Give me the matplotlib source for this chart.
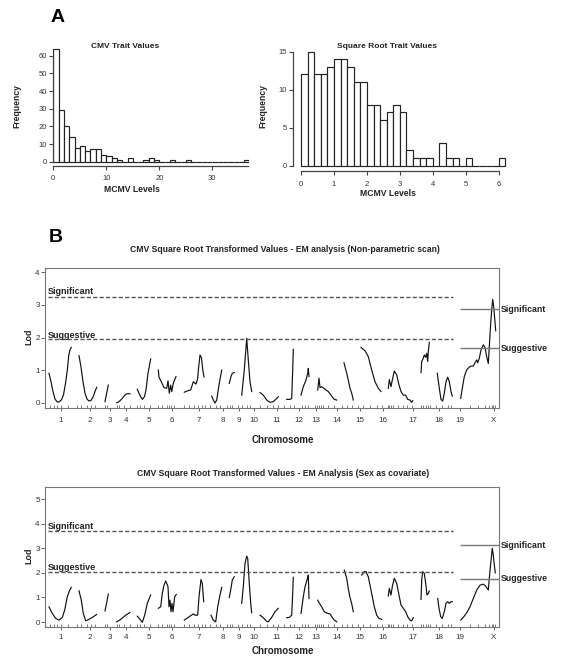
import numpy as np
import matplotlib
matplotlib.use("Agg")
import matplotlib.pyplot as plt

plt.rcParams['font.family'] = ['Liberation Sans', 'DejaVu Sans']

W, H = 563, 669

# ---- panel A: histogram counts ----
cmv_counts = [64, 29, 20, 14, 8, 9, 6, 7, 7, 4, 3, 2, 1, 0, 2, 0, 0, 1, 2, 1,
              0, 0, 1, 0, 0, 1, 0, 0, 0, 0, 0, 0, 0, 0, 0, 0, 1]
cmv_binwidth = 1.0
sqrt_counts = [12, 15, 12, 12, 13, 14, 14, 13, 11, 11, 8, 8, 6, 7, 8, 7, 2, 1,
               1, 1, 0, 3, 1, 1, 0, 1, 0, 0, 0, 0, 1]
sqrt_binwidth = 0.2

# ---- panel B: genome scans ----
chrom_names = [str(i) for i in range(1, 20)] + ['X']
chrom_mid = [61, 90, 109.7, 126, 148.7, 171.7, 199, 222.7, 239, 254.3, 276.7,
             299.3, 316, 337.3, 360, 382.7, 413.3, 439.3, 460, 493.7]
markers = [50, 54, 57.3, 61.3, 68, 77.3, 81.3, 86.7, 90.7, 94.7, 105, 107.3,
           116.7, 119, 124, 130, 137.3, 140, 144, 150, 158.3, 162.3, 167.3,
           169.3, 170.7, 171.7, 174, 184, 189, 194, 198.3, 201.7, 205, 210,
           215.7, 220, 226.7, 230, 232.3, 238.3, 241.7, 246.7, 250, 254.3, 260,
           266.7, 273.3, 277.7, 284.3, 290, 294.3, 301.7, 305, 308.3, 315,
           317.3, 319, 321, 323.3, 328.3, 334.3, 341.7, 346.7, 351.7, 358.3,
           363.3, 370, 376.7, 381.7, 387.7, 389.3, 391, 393.3, 398.3, 403.3,
           406.7, 411.7, 421, 423.3, 426, 428.3, 430, 435.7, 441.7, 448.3, 451,
           460, 470, 478.3, 485, 489, 491.7, 493.3, 495]

# non-parametric scan, one (positions, lod) pair per line piece
np_scan = [
    ([49, 51, 53, 55, 57.3, 59.5, 61.5, 63.5, 65.5, 67.3, 68.7, 70, 71.3],
     [0.91, 0.65, 0.35, 0.12, 0.03, 0.04, 0.1, 0.25, 0.6, 1.0, 1.45, 1.63, 1.7]),
    ([79, 81, 83, 85, 87, 89, 91, 93, 95, 96.7],
     [1.45, 1.1, 0.65, 0.3, 0.12, 0.06, 0.08, 0.18, 0.35, 0.48]),
    ([105, 108.3], [0.04, 0.55]),
    ([116.7, 118.5, 120.7, 122.5, 124, 126, 128, 130],
     [0.01, 0.03, 0.09, 0.15, 0.21, 0.27, 0.29, 0.28]),
    ([137.3, 139, 140.7, 142.5, 144.5, 146, 148, 150.7],
     [0.42, 0.3, 0.19, 0.11, 0.2, 0.4, 0.91, 1.35]),
    ([158.3, 159, 161.3, 164, 166.7, 168, 169.3, 170.7, 171.7, 173.3, 176],
     [1.01, 0.79, 0.65, 0.47, 0.45, 0.68, 0.30, 0.55, 0.35, 0.6, 0.81]),
    ([184.3, 188.3, 190.7, 193.3, 196, 197.5, 198.5, 200, 201.5, 203, 204],
     [0.33, 0.38, 0.40, 0.65, 0.58, 0.72, 1.05, 1.47, 1.38, 0.96, 0.8]),
    ([211.7, 213.5, 215, 216.7, 219, 221.7], [0.21, 0.08, 0.0, 0.09, 0.55, 1.01]),
    ([229.3, 231, 232.3, 234.3], [0.6, 0.81, 0.91, 0.93]),
    ([241.7, 244.3, 246.7, 248.3, 250, 251.7], [0.24, 1.01, 1.98, 1.32, 0.65, 0.35]),
    ([260, 263.3, 266.7, 270, 273.3, 276.7, 278.3],
     [0.32, 0.24, 0.09, 0.02, 0.04, 0.14, 0.19]),
    ([286.7, 290, 291.7, 292.7, 293.3], [0.11, 0.11, 0.14, 1.01, 1.64]),
    ([301, 303.3, 306, 307.7, 308.3, 309], [0.24, 0.5, 0.7, 0.91, 1.06, 0.81]),
    ([317.7, 319, 320, 321.7, 325, 328.3, 331.7, 334.3, 336.7],
     [0.4, 0.76, 0.47, 0.5, 0.42, 0.35, 0.21, 0.11, 0.09]),
    ([344, 346.7, 348.3, 350, 351.7, 353.3], [1.23, 0.91, 0.7, 0.45, 0.3, 0.09]),
    ([361, 365, 368.3, 371.7, 375, 378.3, 381], [1.70, 1.6, 1.42, 1.01, 0.65, 0.45, 0.35]),
    ([388.3, 389.3, 391, 392.3, 394.3, 396.7, 399, 401, 403.3, 405.7, 407.7, 410, 411.7, 412.7],
     [0.45, 0.72, 0.5, 0.7, 0.98, 0.86, 0.55, 0.35, 0.24, 0.24, 0.11, 0.09, 0.02, 0.07]),
    ([421, 421.7, 423.3, 424.3, 425.7, 426.7, 427.7, 428.3, 429.3],
     [0.93, 1.27, 1.37, 1.47, 1.40, 1.52, 1.27, 1.57, 1.85]),
    ([437.3, 439.3, 441, 442.7, 444.3, 446, 447.7, 449.3, 451, 452.3],
     [0.91, 0.45, 0.11, 0.06, 0.30, 0.65, 0.79, 0.65, 0.35, 0.21]),
    ([460.7, 462.3, 464.3, 466.7, 469, 471, 473.3, 475, 476.7, 477.7, 479.3, 481,
      483.3, 485, 486.7, 488.3, 489.3, 490.7, 491.7, 492.7, 493.7, 494.7, 495.7],
     [0.14, 0.45, 0.81, 1.01, 1.09, 1.13, 1.13, 1.23, 1.32, 1.23, 1.37, 1.62,
      1.78, 1.70, 1.42, 1.21, 1.72, 2.44, 2.85, 3.17, 2.95, 2.59, 2.21]),
]

# sex as covariate scan
sex_scan = [
    ([49, 52.3, 55.7, 59, 62.3, 64.7, 67.3, 69.7, 71.3],
     [0.62, 0.35, 0.15, 0.08, 0.19, 0.49, 1.03, 1.30, 1.41]),
    ([79, 81.3, 83.3, 85.7, 89, 92.3, 96.7], [1.27, 0.89, 0.35, 0.05, 0.11, 0.19, 0.31]),
    ([105, 106.7, 108.3], [0.45, 0.79, 1.14]),
    ([116.7, 120.7, 125.7, 130], [0.01, 0.11, 0.28, 0.39]),
    ([137.3, 140, 142.3, 144.7, 147.3, 150.7], [0.24, 0.11, -0.01, 0.28, 0.76, 1.1]),
    ([158.3, 160.7, 162.3, 164, 165.7, 168, 169, 170, 171, 172, 173, 174.7, 176.3],
     [0.56, 0.62, 1.17, 1.50, 1.67, 1.44, 0.62, 0.89, 0.42, 0.76, 0.42, 1.03, 1.12]),
    ([184.3, 190, 193.3, 195, 197.7, 199, 201, 202.3, 203.7],
     [0.08, 0.24, 0.33, 0.28, 0.28, 1.03, 1.73, 1.57, 0.83]),
    ([211, 213.3, 215.7, 217.7, 220, 221.7], [0.28, 0.08, 0.01, 0.62, 1.10, 1.41]),
    ([229.3, 231, 232.3, 234.3], [1.0, 1.37, 1.71, 1.84]),
    ([241.7, 243.3, 245, 246.7, 247.7, 249.3, 250.7, 251.7],
     [0.76, 1.44, 2.38, 2.68, 2.59, 1.57, 0.76, 0.38]),
    ([260, 263.3, 266, 268.3, 271.7, 275, 278.3], [0.28, 0.18, 0.05, 0.01, 0.19, 0.42, 0.56]),
    ([286.7, 289.3, 291.7, 292.7, 293.3], [0.18, 0.19, 0.28, 1.17, 1.82]),
    ([301, 303.3, 305, 306, 307.7, 308.3, 309], [0.35, 1.03, 1.43, 1.57, 1.82, 1.91, 0.96]),
    ([317.7, 319, 320, 321.7, 324.3, 327.7, 330, 331.7, 334.3, 336.7],
     [0.89, 0.79, 0.73, 0.62, 0.42, 0.35, 0.33, 0.22, 0.08, 0.01]),
    ([344.3, 346.7, 348.3, 350, 351.7, 353.3], [2.11, 1.78, 1.35, 1.0, 0.75, 0.42]),
    ([361.7, 364.3, 366, 368.3, 371, 374.3, 376.7, 379, 381.7],
     [1.91, 2.05, 2.05, 1.84, 1.30, 0.62, 0.28, 0.15, 0.11]),
    ([388.3, 389.3, 391, 392.3, 394.3, 396.7, 399, 401, 403.3, 405.7, 407.7, 410, 411.7, 413.3],
     [1.06, 1.37, 1.10, 1.44, 1.78, 1.57, 1.10, 0.69, 0.56, 0.42, 0.22, 0.08, 0.05, 0.18]),
    ([421, 421.7, 422.7, 424.3, 425.7, 427, 428.3, 429.3],
     [0.92, 1.71, 2.05, 1.98, 1.57, 1.10, 1.17, 1.26]),
    ([437.7, 439, 440.7, 442.3, 444.3, 446, 447.7, 449.3, 451, 452.3],
     [0.96, 0.56, 0.22, 0.15, 0.42, 0.76, 0.83, 0.76, 0.83, 0.83]),
    ([460.7, 463.3, 466.7, 470, 473.3, 476.7, 480, 483.3, 485.7, 488.3, 489.3,
      490.7, 492.3, 493.3, 494.3, 495.3],
     [0.08, 0.19, 0.38, 0.62, 0.96, 1.30, 1.50, 1.54, 1.46, 1.30, 1.78, 2.38,
      3.0, 2.72, 2.32, 2.0]),
]

np_thresh = {'auto_sig': 3.25, 'auto_sug': 1.95, 'x_sig': 2.87, 'x_sug': 1.67}
sex_thresh = {'auto_sig': 3.71, 'auto_sug': 2.02, 'x_sig': 3.13, 'x_sug': 1.76}

fig = plt.figure(figsize=(W / 100, H / 100), dpi=100)
fig.patch.set_facecolor('white')


def px_axes(l, t, r, b):
    return fig.add_axes([l / W, 1 - b / H, (r - l) / W, (b - t) / H])


def px_text(x, y, s, **kw):
    fig.text(x / W, 1 - y / H, s, **kw)


AX = '#444444'
TXT = '#222222'


def hist_panel(box, counts, width, xlim, ylim, xb, yb, xt, yt, xpad):
    ax = px_axes(*box)
    edges = np.arange(len(counts)) * width
    ax.bar(edges, counts, width=width, align='edge', color='white',
           edgecolor='#222222', linewidth=0.85)
    ax.set_xlim(*xlim)
    ax.set_ylim(*ylim)
    for s in ['top', 'right']:
        ax.spines[s].set_visible(False)
    ax.spines['left'].set_bounds(*yb)
    ax.spines['bottom'].set_bounds(*xb)
    for s in ['left', 'bottom']:
        ax.spines[s].set_color(AX)
        ax.spines[s].set_linewidth(0.9)
    ax.set_xticks(xt)
    ax.set_yticks(yt)
    ax.tick_params(length=3, width=0.8, color=AX, labelsize=5.5, pad=1.5,
                   labelcolor='#333333')
    ax.tick_params(axis='x', pad=xpad)
    return ax


hist_panel((53.3, 46.8, 249.4, 166), cmv_counts, cmv_binwidth, (0, 37),
           (-2.4, 65), (0, 36.8), (0, 60), [0, 10, 20, 30],
           [0, 10, 20, 30, 40, 50, 60], 3.5)
hist_panel((293.3, 44.1, 507, 171), sqrt_counts, sqrt_binwidth, (-0.234, 6.25),
           (-0.7, 16), (0, 6), (0, 15), [0, 1, 2, 3, 4, 5, 6],
           [0, 5, 10, 15], 4)

px_text(125, 47, 'CMV Trait Values', ha='center', va='center', fontsize=6,
        fontweight='bold', color=TXT)
px_text(386.7, 47, 'Square Root Trait Values', ha='center', va='center',
        fontsize=6, fontweight='bold', color=TXT)
px_text(17, 106, 'Frequency', rotation=90, ha='center', va='center',
        fontsize=6.2, fontweight='bold', color=TXT)
px_text(263, 106, 'Frequency', rotation=90, ha='center', va='center',
        fontsize=6.2, fontweight='bold', color=TXT)
px_text(132, 190, 'MCMV Levels', ha='center', va='center', fontsize=6.2,
        fontweight='bold', color=TXT)
px_text(388, 194, 'MCMV Levels', ha='center', va='center', fontsize=6.2,
        fontweight='bold', color=TXT)
px_text(58, 17, 'A', ha='center', va='center', fontsize=14, fontweight='bold')
px_text(56, 238, 'B', ha='center', va='center', fontsize=14, fontweight='bold')


def scan_panel(box, scan, thr, ylim, yt, lab_pad, sig_off, sug_off):
    ax = px_axes(*box)
    for xs, ys in scan:
        ax.plot(xs, ys, color='#111111', linewidth=0.85)
    ax.hlines([thr['auto_sig'], thr['auto_sug']], 48, 453, colors='#555555',
              linestyles=(0, (3, 1.6)), linewidth=1.0)
    ax.hlines([thr['x_sig'], thr['x_sug']], 460, 499, colors='#777777',
              linewidth=1.0, clip_on=False)
    ax.text(47.7, thr['auto_sig'] + sig_off, 'Significant', fontsize=6.5,
            fontweight='bold', color=TXT, va='baseline')
    ax.text(47.7, thr['auto_sug'] + sug_off, 'Suggestive', fontsize=6.5,
            fontweight='bold', color=TXT, va='baseline')
    ax.text(501, thr['x_sig'], 'Significant', fontsize=6.3, fontweight='bold',
            color=TXT, va='center', clip_on=False)
    ax.text(501, thr['x_sug'], 'Suggestive', fontsize=6.3, fontweight='bold',
            color=TXT, va='center', clip_on=False)
    ax.set_xlim(45.3, 499)
    ax.set_ylim(*ylim)
    for s in ax.spines.values():
        s.set_color('#777777')
        s.set_linewidth(0.8)
    ax.set_yticks(yt)
    ax.set_xticks(chrom_mid)
    ax.set_xticklabels(chrom_names)
    ax.set_xticks(markers, minor=True)
    ax.tick_params(axis='y', length=3, width=0.7, color='#666666',
                   labelsize=5.8, pad=1, labelcolor='#333333')
    ax.tick_params(axis='x', which='major', length=2, width=0.7,
                   color='#666666', labelsize=5.8, pad=lab_pad,
                   labelcolor='#333333')
    ax.tick_params(axis='x', which='minor', direction='in', length=2.5,
                   width=0.6, color='#666666')
    return ax


scan_panel((45.3, 267.7, 499, 407.7), np_scan, np_thresh, (-0.144, 4.14),
           [0, 1, 2, 3, 4], 4.6, 0.08, 0.03)
scan_panel((45.3, 486.7, 499, 627), sex_scan, sex_thresh, (-0.2, 5.5),
           [0, 1, 2, 3, 4, 5], 2.8, 0.09, 0.09)

px_text(284.5, 250, 'CMV Square Root Transformed Values - EM analysis (Non-parametric scan)',
        ha='center', va='center', fontsize=6.2, fontweight='bold', color=TXT)
px_text(283, 474, 'CMV Square Root Transformed Values - EM Analysis (Sex as covariate)',
        ha='center', va='center', fontsize=6.2, fontweight='bold', color=TXT)
px_text(29, 337, 'Lod', rotation=90, ha='center', va='center', fontsize=6.4,
        fontweight='bold', color=TXT)
px_text(29, 556, 'Lod', rotation=90, ha='center', va='center', fontsize=6.4,
        fontweight='bold', color=TXT)
px_text(283, 440, 'Chromosome', ha='center', va='center', fontsize=7,
        fontweight='bold', color=TXT)
px_text(283, 651, 'Chromosome', ha='center', va='center', fontsize=7,
        fontweight='bold', color=TXT)

fig.savefig('out.png', dpi=100)
